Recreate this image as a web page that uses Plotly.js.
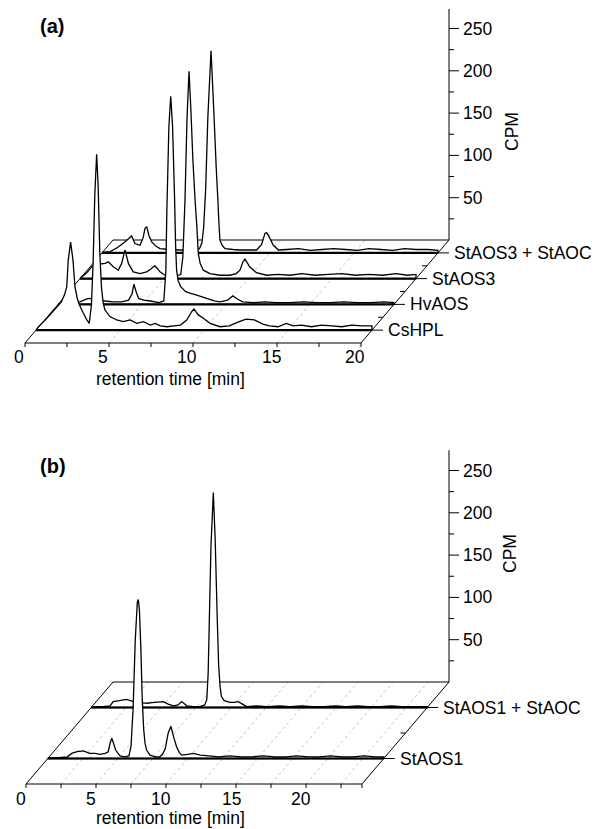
<!DOCTYPE html>
<html><head><meta charset="utf-8">
<script src="https://cdn.plot.ly/plotly-3.0.1.min.js"></script>
<style>html,body{margin:0;padding:0;background:#fff}#chart{width:600px;height:829px}</style>
</head><body><div id="chart"></div>
<script>
// ---------------- DATA ----------------
// Panel (a)
const namesA = ['CsHPL', 'HvAOS', 'StAOS3', 'StAOS3 + StAOC'];   // front -> back
const tCsHPL = [0.15,0.6,1.0,1.5,1.7,1.83,1.92,2.06,2.2,2.32,2.45,2.58,2.82,3.0,3.17,3.3,3.4,3.5,3.61,3.7,3.8,3.9,4.0,4.1,4.4,4.8,5.2,5.6,6.0,6.4,6.8,7.1,7.4,7.8,8.2,8.6,8.97,9.27,9.4,9.66,9.96,10.36,10.95,11.5,12.1,12.5,13.0,13.5,13.9,14.4,14.9,15.3,15.8,16.4,17.0,17.6,18.2,18.8,19.4,20.0];
const cCsHPL = [4,13,22,33,42,51,83,104,83,51,38,30,20,13,8,30,80,160,208,170,90,50,32,24,16,12,10,12,8,10,6,8,5,4,5,6,12,22,25,18,14,8,4,5,10,13,12,7,5,4,8,5,6,4,6,5,4,6,5,5];
const tHvAOS = [0.3,0.8,1.3,1.8,2.3,2.8,3.3,3.8,4.2,4.4,4.52,4.65,4.8,5.1,5.5,6.0,6.3,6.42,6.48,6.6,6.71,6.82,6.94,7.0,7.06,7.15,7.3,7.6,7.9,8.26,8.85,9.3,9.64,10.1,10.4,10.7,11.0,11.6,12.3,13.0,13.8,14.6,15.4,16.2,17.0,17.8,18.6,19.4,20.0];
const cHvAOS = [1,2,3,7,6,4,3,3,5,12,24,15,7,5,4,2,4,40,110,210,246,210,125,70,40,28,21,15,13,11,7,4,3,5,10,6,3,2,3,2,2,3,2,2,3,2,2,3,2];
const tStAOS3 = [0.05,0.4,0.7,1.1,1.49,1.69,1.98,2.28,2.48,2.68,2.88,3.17,3.57,3.97,4.2,4.37,4.46,4.6,4.76,5.06,5.5,5.9,6.0,6.12,6.25,6.37,6.49,6.6,6.72,6.85,6.96,7.04,7.15,7.34,7.74,8.33,8.93,9.3,9.52,9.7,9.82,9.95,10.1,10.5,11.1,11.8,12.5,13.2,14.0,14.8,15.6,16.4,17.2,18.0,18.8,19.5,20.0];
const cStAOS3 = [1,7,14,17,18,20,14,10,18,34,18,8,6,8,11,14,15,12,8,4,3,4,5,25,93,190,245,200,140,93,60,30,18,10,6,4,4,6,10,20,23,19,14,7,4,5,4,6,4,5,6,4,5,4,6,4,5];
const tStAOS3AOC = [0.1,0.48,0.9,1.3,1.6,1.76,1.96,2.26,2.45,2.56,2.66,2.8,2.96,3.2,3.45,4.0,4.64,5.2,5.6,5.8,5.95,6.05,6.17,6.3,6.49,6.65,6.8,6.9,6.96,7.02,7.15,7.32,7.8,8.2,8.7,9.2,9.5,9.7,9.8,9.9,10.2,10.5,11.0,11.7,12.4,13.1,13.8,14.5,15.2,15.9,16.6,17.3,18.0,18.7,19.4,20.0];
const cStAOS3AOC = [1,1.5,6,12,17,20,11,9,18,29,31,20,13,8,5,4,3.4,3,4,5,12,30,75,160,239,170,100,62,35,15,9,5,4,3.4,3.4,3.4,10,23,24,21,9,3.4,4,5,3,4,5,4,3,5,4,3,5,4,4,3];
const xTicksA = [0,2.5,5,7.5,10,12.5,15,17.5,20];
const xLabelsA = [0,5,10,15,20];
const gridA = [5,10,15];

// Panel (b)
const namesB = ['StAOS1', 'StAOS1 + StAOC'];   // front -> back
const tStAOS1 = [0.2,0.8,1.4,1.71,2.1,2.54,3.0,3.4,3.73,4.1,4.32,4.45,4.57,4.7,4.85,5.16,5.5,5.8,5.95,6.1,6.25,6.4,6.47,6.55,6.65,6.75,6.85,6.95,7.06,7.3,7.7,8.0,8.2,8.4,8.6,8.8,9.0,9.2,9.4,9.57,10.0,10.4,10.9,11.5,12.2,13.0,13.8,14.6,15.4,16.2,17.0,17.8,18.6,19.4,20.2,21.0,21.8,22.6,23.4,24.0];
const cStAOS1 = [1,1,2,6,8,9,6,6,5,6,8,18,24,18,10,3,2,3,15,60,140,185,188,175,130,70,35,18,10,4,2,2,5,12,30,38,25,14,7,4,5,6,4,3,2,3,2,2,3,2,2,3,2,2,3,2,2,3,2,2];
const tStAOS1AOC = [0.2,0.8,1.34,1.57,2.0,2.53,3.0,3.5,3.96,4.5,5.15,5.5,5.86,6.2,6.46,6.82,7.3,7.77,8.1,8.25,8.35,8.43,8.55,8.72,8.85,9.0,9.1,9.2,9.3,9.5,9.91,10.2,10.5,10.8,11.1,11.8,12.6,13.4,14.2,15.0,15.8,16.6,17.4,18.2,19.0,19.8,20.6,21.4,22.2,23.0,24.0];
const cStAOS1AOC = [1,1,2,7,8,9.5,7,6,5,6,7,4,2,3,7,2,1,1,3,9,40,100,190,254,200,105,50,25,13,8,6,6,7,4,1,2,1,2,1,2,1,1,2,1,2,1,1,2,1,1,1];
const xTicksB = [0,2.5,5,7.5,10,12.5,15,17.5,20,22.5,24];
const xLabelsB = [0,5,10,15,20];
const gridB = [2.5,5,7.5,10,12.5,15,17.5,20,22.5];

// shared CPM axis
const cpmMajor = [50,100,150,200,250];
const cpmMinor = [25,75,125,175,225];

// ---------------- DRAWING ----------------
const FONT = 'Liberation Sans, Arial, Helvetica, sans-serif';
const FS = 17.5;
const W = 600, H = 829;

const panels = [
  { xa:'x', ya:'y', left:25, front:343, sx:16.8, sy:0.846, depthPx:[88,103], tmax:20, cpmTop:273,
    yTop:0, yBottom:414, names:namesA,
    series:[[tCsHPL,cCsHPL],[tHvAOS,cHvAOS],[tStAOS3,cStAOS3],[tStAOS3AOC,cStAOS3AOC]],
    ticks:xTicksA, labels:xLabelsA, grid:gridA, boundaries:[0.25,0.5,0.75],
    letter:'(a)', letterPos:[38,26], xtitlePos:[171,379], cpmTitlePos:[512,132], tlShift:[-6,-14] },
  { xa:'x2', ya:'y2', left:26, front:784, sx:14, sy:0.846, depthPx:[87,102], tmax:24, cpmTop:274,
    yTop:414, yBottom:829, names:namesB,
    series:[[tStAOS1,cStAOS1],[tStAOS1AOC,cStAOS1AOC]],
    ticks:xTicksB, labels:xLabelsB, grid:gridB, boundaries:[0.5],
    letter:'(b)', letterPos:[38,466], xtitlePos:[170,818], cpmTitlePos:[510,554], tlShift:[-5,-15] }
];

const traces = [];
const annotations = [];
const layout = {
  width:W, height:H, margin:{l:0,r:0,t:0,b:0}, showlegend:false,
  paper_bgcolor:'#fff', plot_bgcolor:'rgba(0,0,0,0)', font:{family:FONT, size:FS, color:'#000'}
};

function addLine(p, xs, ys, line) {
  traces.push({type:'scatter', mode:'lines', x:xs, y:ys, xaxis:p.xa, yaxis:p.ya,
    line:Object.assign({color:'#000', width:1, simplify:false}, line), hoverinfo:'skip', cliponaxis:false});
}

panels.forEach((p, pi) => {
  const DX = p.depthPx[0]/p.sx, DY = p.depthPx[1]/p.sy;
  const P = (t, c, d) => [t + d*DX, c + d*DY];
  const pxX = v => v/p.sx, pxY = v => v/p.sy;
  const n = p.series.length;
  const depthOf = i => (i + 0.5)/n;

  const axX = pi === 0 ? 'xaxis' : 'xaxis2';
  const axY = pi === 0 ? 'yaxis' : 'yaxis2';
  layout[axX] = {visible:false, fixedrange:true, domain:[0,1], range:[-p.left/p.sx, (W-p.left)/p.sx],
                 anchor: pi === 0 ? 'y' : 'y2'};
  layout[axY] = {visible:false, fixedrange:true, domain:[1-p.yBottom/H, 1-p.yTop/H],
                 range:[(p.front-p.yBottom)/p.sy, (p.front-p.yTop)/p.sy], anchor: pi === 0 ? 'x' : 'x2'};

  // floor grid (dotted)
  {
    const xs = [], ys = [];
    p.grid.forEach(t => { const a = P(t,0,0), b = P(t,0,1); xs.push(a[0], b[0], null); ys.push(a[1], b[1], null); });
    addLine(p, xs, ys, {color:'#b4b4b4', width:0.8, dash:'dot'});
  }
  // floor outline
  {
    const c = [P(0,0,0), P(p.tmax,0,0), P(p.tmax,0,1), P(0,0,1), P(0,0,0)];
    addLine(p, c.map(v=>v[0]), c.map(v=>v[1]), {width:1});
  }
  // front ticks
  {
    const xs = [], ys = [];
    p.ticks.forEach(t => { const a = P(t,0,0); xs.push(a[0], a[0], null); ys.push(a[1], a[1]-pxY(4), null); });
    addLine(p, xs, ys, {width:1});
  }
  // series, back to front
  for (let i = n-1; i >= 0; i--) {
    const d = depthOf(i);
    const [ts, cs] = p.series[i];
    const xs = [], ys = [];
    const push = (t, c) => { const q = P(t, c, d); xs.push(q[0]); ys.push(q[1]); };
    push(0, 0);
    ts.forEach((t, k) => push(t, cs[k]));
    push(p.tmax, 0);
    push(0, 0);
    traces.push({type:'scatter', mode:'lines', x:xs, y:ys, xaxis:p.xa, yaxis:p.ya, fill:'toself',
      fillcolor:'#ffffff', line:{color:'#000', width:1.3, simplify:false}, hoverinfo:'skip'});
    const b0 = P(0,0,d), b1 = P(p.tmax,0,d);
    addLine(p, [b0[0], b1[0]], [b0[1], b1[1]], {width:2.2});
  }
  // CPM axis
  {
    const a = P(p.tmax,0,1), b = P(p.tmax,p.cpmTop,1);
    const xs = [a[0], b[0], null], ys = [a[1], b[1], null];
    cpmMajor.forEach(v => { const q = P(p.tmax, v, 1); xs.push(q[0], q[0]+pxX(10), null); ys.push(q[1], q[1], null); });
    cpmMinor.forEach(v => { const q = P(p.tmax, v, 1); xs.push(q[0], q[0]+pxX(5), null); ys.push(q[1], q[1], null); });
    addLine(p, xs, ys, {width:1});
    cpmMajor.forEach(v => {
      const q = P(p.tmax, v, 1);
      annotations.push({xref:p.xa, yref:p.ya, x:q[0], y:q[1], text:String(v), showarrow:false,
        xanchor:'left', yanchor:'middle', xshift:12, font:{size:FS, family:FONT, color:'#000'}});
    });
  }
  // depth axis ticks + labels
  {
    const xs = [], ys = [];
    p.names.forEach((nm, i) => {
      const q = P(p.tmax, 0, depthOf(i));
      xs.push(q[0], q[0]+pxX(11), null); ys.push(q[1], q[1], null);
      annotations.push({xref:p.xa, yref:p.ya, x:q[0], y:q[1], text:nm, showarrow:false,
        xanchor:'left', yanchor:'middle', xshift:14, font:{size:FS, family:FONT, color:'#000'}});
    });
    p.boundaries.forEach(d => { const q = P(p.tmax, 0, d); xs.push(q[0]-pxX(5), q[0], null); ys.push(q[1], q[1], null); });
    addLine(p, xs, ys, {width:1});
  }
  // x tick labels
  p.labels.forEach(t => {
    const q = P(t, 0, 0);
    annotations.push({xref:p.xa, yref:p.ya, x:q[0], y:q[1], text:String(t), showarrow:false,
      xanchor:'center', yanchor:'middle', xshift:p.tlShift[0], yshift:p.tlShift[1], font:{size:FS, family:FONT, color:'#000'}});
  });
  // titles
  annotations.push({xref:'paper', yref:'paper', x:p.xtitlePos[0]/W, y:1-p.xtitlePos[1]/H, text:'retention time [min]',
    showarrow:false, xanchor:'center', yanchor:'middle', font:{size:FS, family:FONT, color:'#000'}});
  annotations.push({xref:'paper', yref:'paper', x:p.cpmTitlePos[0]/W, y:1-p.cpmTitlePos[1]/H, text:'CPM', textangle:-90,
    showarrow:false, xanchor:'center', yanchor:'middle', font:{size:FS, family:FONT, color:'#000'}});
  annotations.push({xref:'paper', yref:'paper', x:p.letterPos[0]/W, y:1-p.letterPos[1]/H, text:'<b>'+p.letter+'</b>',
    showarrow:false, xanchor:'left', yanchor:'middle', font:{size:20, family:FONT, color:'#000'}});
});

layout.annotations = annotations;
Plotly.newPlot('chart', traces, layout, {staticPlot:true, displayModeBar:false});
</script>
</body></html>
